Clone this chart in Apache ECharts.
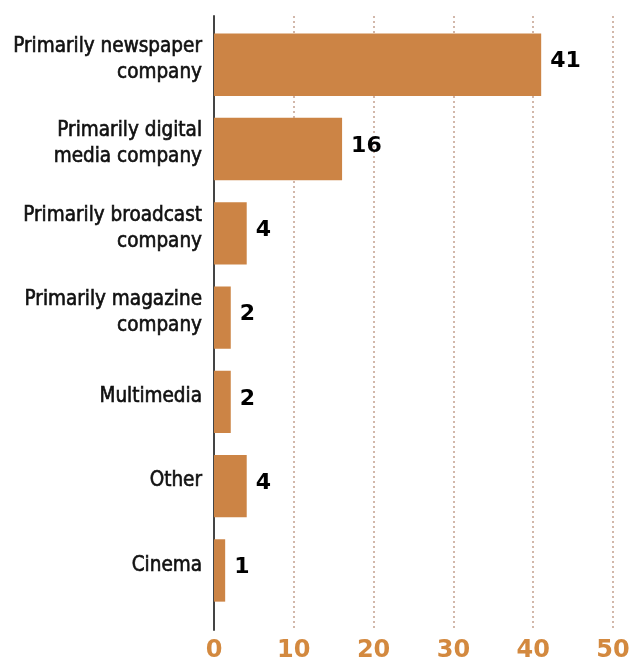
<!DOCTYPE html>
<html>
<head>
<meta charset="utf-8">
<script src="https://cdn.jsdelivr.net/npm/echarts@6/dist/echarts.min.js"></script>
<style>html,body{margin:0;padding:0;background:#fff}#c{width:631px;height:659px}</style>
</head>
<body>
<div id="c"></div>
<script>
const categories = [
  "Primarily newspaper\ncompany",
  "Primarily digital\nmedia company",
  "Primarily broadcast\ncompany",
  "Primarily magazine\ncompany",
  "Multimedia",
  "Other",
  "Cinema"
];
const values = [41, 16.05, 4.1, 2.1, 2.1, 4.1, 1.4];
const xTicks = [0, 10, 20, 30, 40, 50];

const chart = echarts.init(document.getElementById('c'));
const catFont = "'DejaVu Sans Condensed', sans-serif";
chart.setOption({
  animation: false,
  grid: [
    {left: 214, right: 18, top: 22.6, height: 590, containLabel: false, outerBoundsMode: 'none'},
    {left: 214, right: 18, top: 16, bottom: 29, containLabel: false, outerBoundsMode: 'none'}
  ],
  xAxis: [
    {gridIndex: 0, type: 'value', min: 0, max: 50, show: false},
    {gridIndex: 1, type: 'value', min: xTicks[0], max: xTicks[xTicks.length - 1], interval: 10,
     axisLine: {show: false}, axisTick: {show: false},
     splitLine: {show: true, lineStyle: {type: [2, 3], color: '#c4a08e', width: 1.5}},
     axisLabel: {margin: 9, color: '#d3893f', fontSize: 24, fontWeight: 'bold',
       fontFamily: "'DejaVu Sans', sans-serif"}}
  ],
  yAxis: [
    {gridIndex: 0, type: 'category', data: categories, inverse: true,
     axisLine: {show: false}, axisTick: {show: false}, splitLine: {show: false},
     axisLabel: {margin: 12, align: 'right',
       formatter: v => v.split('\n').map(l => '{a|' + l + '}').join('\n') + '\n{s|}',
       rich: {
         a: {color: '#111', fontSize: 20.5, lineHeight: 26, fontFamily: catFont,
             textBorderColor: '#111', textBorderWidth: 0.6, align: 'right'},
         s: {fontSize: 8, lineHeight: 10, align: 'right'}
       }}},
    {gridIndex: 1, type: 'value', min: 0, max: 1,
     axisLine: {show: true, lineStyle: {color: '#444', width: 2}},
     axisTick: {show: false}, axisLabel: {show: false}, splitLine: {show: false}}
  ],
  series: [{
    type: 'bar', xAxisIndex: 0, yAxisIndex: 0, data: values,
    barCategoryGap: '26%',
    itemStyle: {color: '#cc8445'},
    label: {show: true, position: 'right', distance: 9, color: '#000', offset: [0, -3],
      fontSize: 22, fontWeight: 'bold', fontFamily: "'DejaVu Sans', sans-serif",
      formatter: p => String(Math.round(p.value))},
    z: 3
  }]
});
</script>
</body>
</html>
